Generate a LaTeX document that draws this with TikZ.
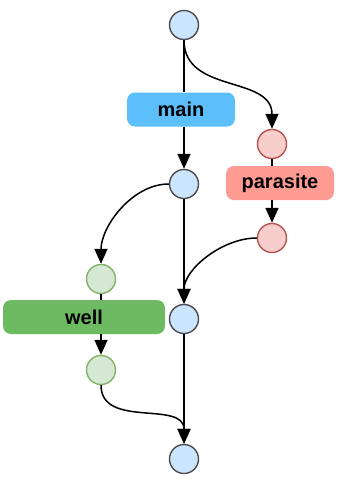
\documentclass[tikz,border=0pt]{standalone}
\usepackage{fontspec}
\setmainfont{Liberation Sans}
\usetikzlibrary{arrows.meta}
\definecolor{commitblue}{HTML}{CCE5FF}
\definecolor{commitred}{HTML}{F8CECC}
\definecolor{redline}{HTML}{B85450}
\definecolor{commitgreen}{HTML}{D5E8D4}
\definecolor{greenline}{HTML}{82B366}
\definecolor{mainfill}{HTML}{5CBEFA}
\definecolor{parafill}{HTML}{FF9B93}
\definecolor{wellfill}{HTML}{6EBA63}
\begin{document}
\begin{tikzpicture}[x=1pt,y=-1pt,
  commit/.style={circle,minimum size=29pt,inner sep=0pt,line width=1.4pt},
  bluecommit/.style={commit,fill=commitblue,draw=black!70},
  redcommit/.style={commit,fill=commitred,draw=redline},
  greencommit/.style={commit,fill=commitgreen,draw=greenline},
  branch/.style={rounded corners=8pt,inner sep=0pt,minimum height=34pt,
    font=\fontsize{20}{20}\selectfont\bfseries,text=black},
  flow/.style={line width=1.5pt,-{Triangle[width=13pt,length=15pt]}},
  plain/.style={line width=1.5pt}]
\useasboundingbox (0,0) rectangle (344,480);
% commits
\node[bluecommit] (b1) at (184,25) {};
\node[bluecommit] (b2) at (184,184) {};
\node[bluecommit] (b3) at (184,319) {};
\node[bluecommit] (b4) at (184,459) {};
\node[redcommit] (r1) at (272,144) {};
\node[redcommit] (r2) at (272,238) {};
\node[greencommit] (g1) at (101,279) {};
\node[greencommit] (g2) at (101,370) {};
% branch labels
\node[branch,fill=mainfill,minimum width=108pt] (mainlbl) at (181,109.5) {main};
\node[branch,fill=parafill,minimum width=108pt] (paralbl) at (280,183) {parasite};
\node[branch,fill=wellfill,minimum width=162pt] (welllbl) at (84,317) {well};
% main line
\draw[plain] (b1) -- (b1 |- mainlbl.north);
\draw[flow] (b2 |- mainlbl.south) -- (b2);
\draw[flow] (b2) -- (b3);
\draw[flow] (b3) -- (b4);
% parasite branch
\draw[flow] (b1.south) to[out=-90,in=90,looseness=1.1] (r1.north);
\draw[plain] (r1) -- (r1 |- paralbl.north);
\draw[flow] (r2 |- paralbl.south) -- (r2);
\draw[flow] (r2.west) to[out=180,in=90,looseness=0.9] (b3.north);
% well branch
\draw[flow] (b2.west) to[out=180,in=90,looseness=0.9] (g1.north);
\draw[plain] (g1) -- (g1 |- welllbl.north);
\draw[flow] (g2 |- welllbl.south) -- (g2);
\draw[flow] (g2.south) to[out=-90,in=90,looseness=1.1] (b4.north);
\end{tikzpicture}
\end{document}
